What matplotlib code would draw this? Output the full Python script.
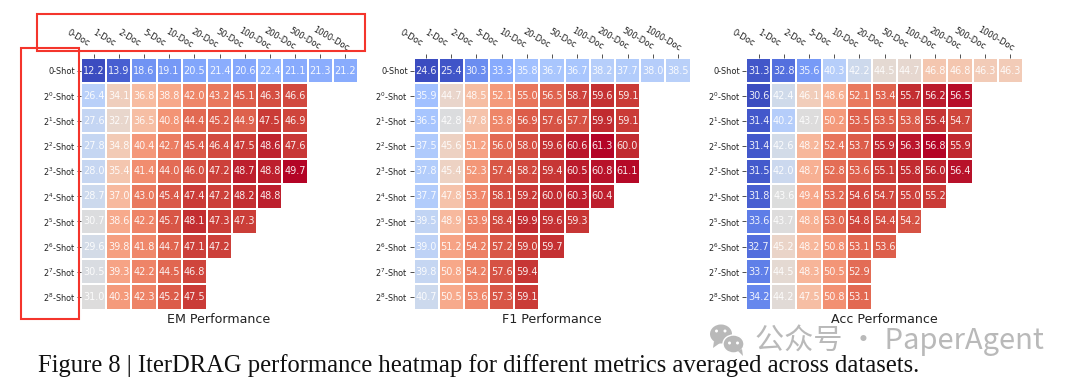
import numpy as np
import matplotlib
matplotlib.use("Agg")
import matplotlib.pyplot as plt
from matplotlib.patches import Rectangle, Ellipse, Polygon
from matplotlib.transforms import ScaledTranslation

doc_labels = ["0-Doc", "1-Doc", "2-Doc", "5-Doc", "10-Doc", "20-Doc", "50-Doc",
              "100-Doc", "200-Doc", "500-Doc", "1000-Doc"]
shot_labels = ["0-Shot", "$2^{0}$-Shot", "$2^{1}$-Shot", "$2^{2}$-Shot", "$2^{3}$-Shot",
               "$2^{4}$-Shot", "$2^{5}$-Shot", "$2^{6}$-Shot", "$2^{7}$-Shot", "$2^{8}$-Shot"]

em_rows = [
    [12.2, 13.9, 18.6, 19.1, 20.5, 21.4, 20.6, 22.4, 21.1, 21.3, 21.2],
    [26.4, 34.1, 36.8, 38.8, 42.0, 43.2, 45.1, 46.3, 46.6],
    [27.6, 32.7, 36.5, 40.8, 44.4, 45.2, 44.9, 47.5, 46.9],
    [27.8, 34.8, 40.4, 42.7, 45.4, 46.4, 47.5, 48.6, 47.6],
    [28.0, 35.4, 41.4, 44.0, 46.0, 47.2, 48.7, 48.8, 49.7],
    [28.7, 37.0, 43.0, 45.4, 47.4, 47.2, 48.2, 48.8],
    [30.7, 38.6, 42.2, 45.7, 48.1, 47.3, 47.3],
    [29.6, 39.8, 41.8, 44.7, 47.1, 47.2],
    [30.5, 39.3, 42.2, 44.5, 46.8],
    [31.0, 40.3, 42.3, 45.2, 47.5],
]
f1_rows = [
    [24.6, 25.4, 30.3, 33.3, 35.8, 36.7, 36.7, 38.2, 37.7, 38.0, 38.5],
    [35.9, 44.7, 48.5, 52.1, 55.0, 56.5, 58.7, 59.6, 59.1],
    [36.5, 42.8, 47.8, 53.8, 56.9, 57.6, 57.7, 59.9, 59.1],
    [37.5, 45.6, 51.2, 56.0, 58.0, 59.6, 60.6, 61.3, 60.0],
    [37.8, 45.4, 52.3, 57.4, 58.2, 59.4, 60.5, 60.8, 61.1],
    [37.7, 47.8, 53.7, 58.1, 59.2, 60.0, 60.3, 60.4],
    [39.5, 48.9, 53.9, 58.4, 59.9, 59.6, 59.3],
    [39.0, 51.2, 54.2, 57.2, 59.0, 59.7],
    [39.8, 50.8, 54.2, 57.6, 59.4],
    [40.7, 50.5, 53.6, 57.3, 59.1],
]
acc_rows = [
    [31.3, 32.8, 35.6, 40.3, 42.2, 44.5, 44.7, 46.8, 46.8, 46.3, 46.3],
    [30.6, 42.4, 46.1, 48.6, 52.1, 53.4, 55.7, 56.2, 56.5],
    [31.4, 40.2, 43.7, 50.2, 53.5, 53.5, 53.8, 55.4, 54.7],
    [31.4, 42.6, 48.2, 52.4, 53.7, 55.9, 56.3, 56.8, 55.9],
    [31.5, 42.0, 48.7, 52.8, 53.6, 55.1, 55.8, 56.0, 56.4],
    [31.8, 43.6, 49.4, 53.2, 54.6, 54.7, 55.0, 55.2],
    [33.6, 43.7, 48.8, 53.0, 54.8, 54.4, 54.2],
    [32.7, 45.2, 48.2, 50.8, 53.1, 53.6],
    [33.7, 44.5, 48.3, 50.5, 52.9],
    [34.2, 44.2, 47.5, 50.8, 53.1],
]
titles = ["EM Performance", "F1 Performance", "Acc Performance"]
caption = "Figure 8 | IterDRAG performance heatmap for different metrics averaged across datasets."
watermark = "公众号 · PaperAgent"

W, H = 1080, 384
fig = plt.figure(figsize=(W / 100, H / 100), dpi=100, facecolor="white")


def px_axes(x0, y0, x1, y1):
    return fig.add_axes([x0 / W, 1 - y1 / H, (x1 - x0) / W, (y1 - y0) / H])


def heatmap(rows, title, x0):
    ax = px_axes(x0, 58, x0 + 277, 309.5)
    n_c, n_r = len(doc_labels), len(shot_labels)
    grid = np.full((n_r, n_c), np.nan)
    for r, row in enumerate(rows):
        grid[r, :len(row)] = row
    ax.pcolormesh(np.arange(n_c + 1), np.arange(n_r + 1), np.ma.masked_invalid(grid),
                  cmap="coolwarm", vmin=np.nanmin(grid), vmax=np.nanmax(grid),
                  edgecolors="white", linewidth=0.35)
    ax.set_xlim(0, n_c)
    ax.set_ylim(n_r, 0)
    for r, row in enumerate(rows):
        for c, v in enumerate(row):
            ax.text(c + 0.5, r + 0.5, f"{v:.1f}", ha="center", va="center",
                    color="white", alpha=0.9, fontsize=7.0)
    for s in ax.spines.values():
        s.set_visible(False)
    ax.xaxis.tick_top()
    ax.set_xticks(np.arange(n_c) + 0.5)
    ax.set_yticks(np.arange(n_r) + 0.5)
    ax.set_yticklabels(shot_labels, fontsize=5.9, color="#222222")
    ax.set_xticklabels(doc_labels, fontsize=6.0, color="#222222", rotation=-30,
                       ha="center", va="center", rotation_mode="anchor")
    ax.tick_params(axis="x", length=2.6, width=0.6, pad=11.5, color="#333333")
    ax.tick_params(axis="y", length=2.6, width=0.6, pad=1.5, color="#333333")
    shift = ScaledTranslation(-15 / 100, 0, fig.dpi_scale_trans)
    for lab in ax.get_xticklabels():
        lab.set_transform(lab.get_transform() + shift)
    fig.text((x0 + 138) / W, 1 - 319.5 / H, title, ha="center", va="center",
             fontsize=9.1, color="#222222")


for rows, title, x0 in zip([em_rows, f1_rows, acc_rows], titles, [81, 413.5, 746]):
    heatmap(rows, title, x0)

overlay = fig.add_axes([0, 0, 1, 1], facecolor="none")
overlay.set_xlim(0, W)
overlay.set_ylim(H, 0)
overlay.axis("off")

# annotation boxes
overlay.add_patch(Rectangle((37, 13.5), 328, 37.5, fill=False, ec="#f4352c", lw=1.5))
overlay.add_patch(Rectangle((20.5, 48), 58, 271, fill=False, ec="#f4352c", lw=1.5))

# caption
overlay.text(38, 366, caption, family="Liberation Serif", fontsize=17.75,
             color="#111111", ha="left", va="center")

# watermark
wm = "#b9b9b9"
overlay.add_patch(Ellipse((721, 334), 22, 19, color=wm, lw=0))
overlay.add_patch(Polygon([[714, 341], [713, 348], [720, 343]], color=wm, lw=0))
overlay.add_patch(Ellipse((733.5, 344), 21, 18, color=wm, ec="white", lw=1))
overlay.add_patch(Polygon([[738, 351], [743, 356], [742, 349]], color=wm, lw=0))
for cx, cy, col in [(716.5, 331, "white"), (725, 331, "white"),
                    (729.5, 343, "white"), (737.5, 343, "white")]:
    overlay.add_patch(Ellipse((cx, cy), 3, 3, color=col, lw=0))
overlay.text(755, 340, watermark, family=["Noto Sans CJK SC", "DejaVu Sans"],
             fontsize=21, color=wm, ha="left", va="center")

fig.savefig("out.png", dpi=100, facecolor="white")
